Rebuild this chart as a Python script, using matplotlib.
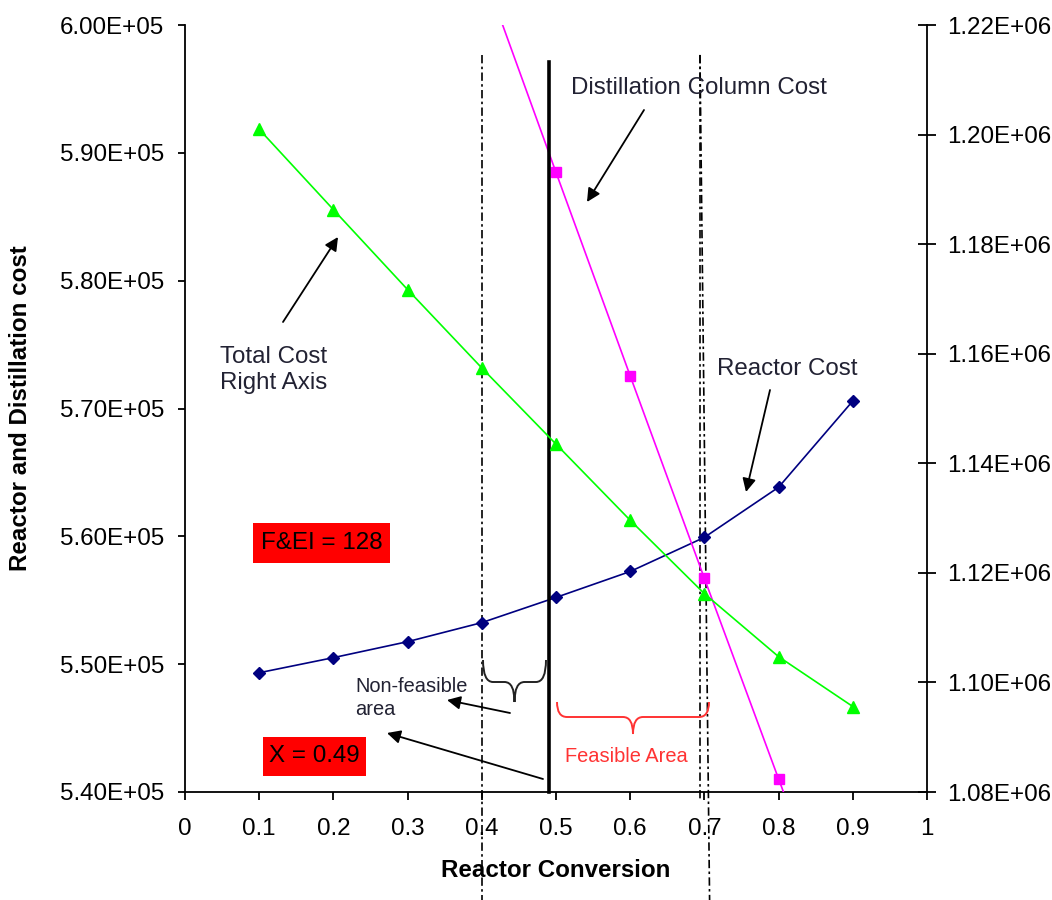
import matplotlib
matplotlib.use("Agg")
import matplotlib.pyplot as plt
import matplotlib.transforms as mtrans
from matplotlib.path import Path
from matplotlib.patches import PathPatch, Rectangle
from matplotlib.ticker import FuncFormatter

plt.rcParams['font.family'] = ['Liberation Sans', 'DejaVu Sans']

# data
conversion = [0.1, 0.2, 0.3, 0.4, 0.5, 0.6, 0.7, 0.8, 0.9]
reactor_cost = [5.4933e5, 5.5051e5, 5.5176e5, 5.5325e5, 5.5522e5,
                5.5725e5, 5.5992e5, 5.6384e5, 5.7059e5]
total_cost = [1.20096e6, 1.1863e6, 1.1717e6, 1.1574e6, 1.1435e6,
              1.1296e6, 1.1162e6, 1.1047e6, 1.0956e6]
dist_conversion = [0.4, 0.5, 0.6, 0.7, 0.8, 0.9]
dist_cost = [6.045e5, 5.8847e5, 5.7255e5, 5.5671e5, 5.4102e5, 5.255e5]

x_ticks = [0, 0.1, 0.2, 0.3, 0.4, 0.5, 0.6, 0.7, 0.8, 0.9, 1]
left_ticks = [5.40e5, 5.50e5, 5.60e5, 5.70e5, 5.80e5, 5.90e5, 6.00e5]
right_ticks = [1.08e6, 1.10e6, 1.12e6, 1.14e6, 1.16e6, 1.18e6, 1.20e6, 1.22e6]
x_limit = 0.49
bounds = [0.4, 0.7]

W, H = 1052, 900
BIG = 17.4
SMALL = 14.4
fig = plt.figure(figsize=(W / 100, H / 100), dpi=100)


def P(x, y):
    # pixel position of the reference -> figure fraction
    return (x / W, 1 - y / H)


ax = fig.add_axes([185 / W, 1 - 792 / H, (927 - 185) / W, (792 - 25) / H])
ax2 = ax.twinx()

ax.plot(conversion, reactor_cost, color="#000080", lw=1.2, marker="D",
        ms=6, zorder=4)
ax.plot(dist_conversion, dist_cost, color="#FF00FF", lw=1.2, marker="s",
        ms=6.5, zorder=4)
ax2.plot(conversion, total_cost, color="#00FF00", lw=1.2, marker="^",
         ms=8, zorder=4)

ax.set_xlim(0, 1)
ax.set_ylim(5.40e5, 6.00e5)
ax2.set_ylim(1.08e6, 1.22e6)
ax.set_xticks(x_ticks)
ax.set_xticklabels([f"{v:g}" for v in x_ticks])
ax.set_yticks(left_ticks)
ax2.set_yticks(right_ticks)
fmt = FuncFormatter(lambda v, p: f"{v:.2E}")
ax.yaxis.set_major_formatter(fmt)
ax2.yaxis.set_major_formatter(fmt)

for a in (ax, ax2):
    a.spines["top"].set_visible(False)
    for s in a.spines.values():
        s.set_linewidth(1.3)
ax.spines["right"].set_visible(False)
ax2.spines["left"].set_visible(False)
ax2.spines["bottom"].set_visible(False)

ax.tick_params(axis="y", direction="out", length=5, width=1.3,
               labelsize=BIG, pad=10)
ax.tick_params(axis="x", direction="out", length=5.5, width=1.3,
               labelsize=BIG, pad=13)
ax2.tick_params(axis="y", direction="inout", length=13, width=1.3,
                labelsize=BIG, pad=8)

ax.set_xlabel("Reactor Conversion", fontsize=BIG, fontweight="bold")
ax.xaxis.set_label_coords(0.5, -0.088)
ax.set_ylabel("Reactor and Distillation cost", fontsize=BIG,
              fontweight="bold")
ax.yaxis.set_label_coords(-0.206, 0.5)

# vertical marker lines
blend = mtrans.blended_transform_factory(ax.transData, ax.transAxes)
dashdot = (0, (5, 2, 1.5, 2))
ax.plot([bounds[0], bounds[0]], [0.961, -0.141], transform=blend,
        color="black", lw=1.2, ls=dashdot, clip_on=False, zorder=3)
ax.plot([bounds[1] - 0.006, bounds[1] - 0.006], [0.961, -0.01],
        transform=blend, color="black", lw=1.2, ls=dashdot, clip_on=False,
        zorder=3)
ax.plot([bounds[1] - 0.006, bounds[1] + 0.007], [0.961, -0.141],
        transform=blend, color="black", lw=1.2, ls=dashdot, clip_on=False,
        zorder=3)
ax.plot([x_limit, x_limit], [0.952, 0], transform=blend, color="black",
        lw=2.6, clip_on=False, zorder=5)


def brace(x0, x1, ytop, ymid, ytip, color):
    xc = (x0 + x1) / 2
    r = min(10, (x1 - x0) / 6)
    pts = [(x0, ytop), (x0, ymid), (x0 + r, ymid),
           (xc - r, ymid),
           (xc, ymid), (xc, ytip),
           (xc, ymid), (xc + r, ymid),
           (x1 - r, ymid),
           (x1, ymid), (x1, ytop)]
    codes = [Path.MOVETO, Path.CURVE3, Path.CURVE3, Path.LINETO,
             Path.CURVE3, Path.CURVE3, Path.CURVE3, Path.CURVE3,
             Path.LINETO, Path.CURVE3, Path.CURVE3]
    path = Path([P(*p) for p in pts], codes)
    fig.add_artist(PathPatch(path, fill=False, edgecolor=color, lw=1.4,
                             transform=fig.transFigure))


brace(483, 546, 660, 682, 702, "#222222")
brace(557, 709, 702, 717, 734, "#FF3333")

arrow = dict(arrowstyle="-|>", color="black", lw=1.3, mutation_scale=20,
             shrinkA=0, shrinkB=0)


def arr(x0, y0, x1, y1):
    ax.annotate("", xy=P(x1, y1), xytext=P(x0, y0),
                xycoords="figure fraction", textcoords="figure fraction",
                arrowprops=arrow, annotation_clip=False)


arr(644, 110, 587, 202)
arr(283, 322, 338, 237)
arr(770, 390, 746, 492)
arr(510, 713, 447, 700)
arr(543, 779, 387, 733)

txt = "#222233"
fig.text(*P(571, 88), "Distillation Column Cost", fontsize=BIG, color=txt,
         va="center", ha="left")
fig.text(*P(220, 370), "Total Cost\nRight Axis", fontsize=BIG, color=txt,
         va="center", ha="left", linespacing=1.25)
fig.text(*P(717, 369), "Reactor Cost", fontsize=BIG, color=txt,
         va="center", ha="left")
fig.text(*P(355, 698), "Non-feasible\narea", fontsize=SMALL, color=txt,
         va="center", ha="left", linespacing=1.3)
fig.text(*P(626, 757), "Feasible Area", fontsize=SMALL, color="#FF3333",
         va="center", ha="center")

for (x0, y0, x1, y1, label) in [(253, 523, 390, 563, "F&EI = 128"),
                                (263, 737, 366, 776, "X = 0.49")]:
    fx0, fy1 = P(x0, y1)
    fx1, fy0 = P(x1, y0)
    fig.add_artist(Rectangle((fx0, fy1), fx1 - fx0, fy0 - fy1,
                             transform=fig.transFigure, facecolor="#FF0000",
                             edgecolor="none", zorder=6))
    fig.text(*P((x0 + x1) / 2, (y0 + y1) / 2), label, fontsize=BIG,
             color="black", ha="center", va="center", zorder=7)

fig.savefig("out.png", dpi=100)
